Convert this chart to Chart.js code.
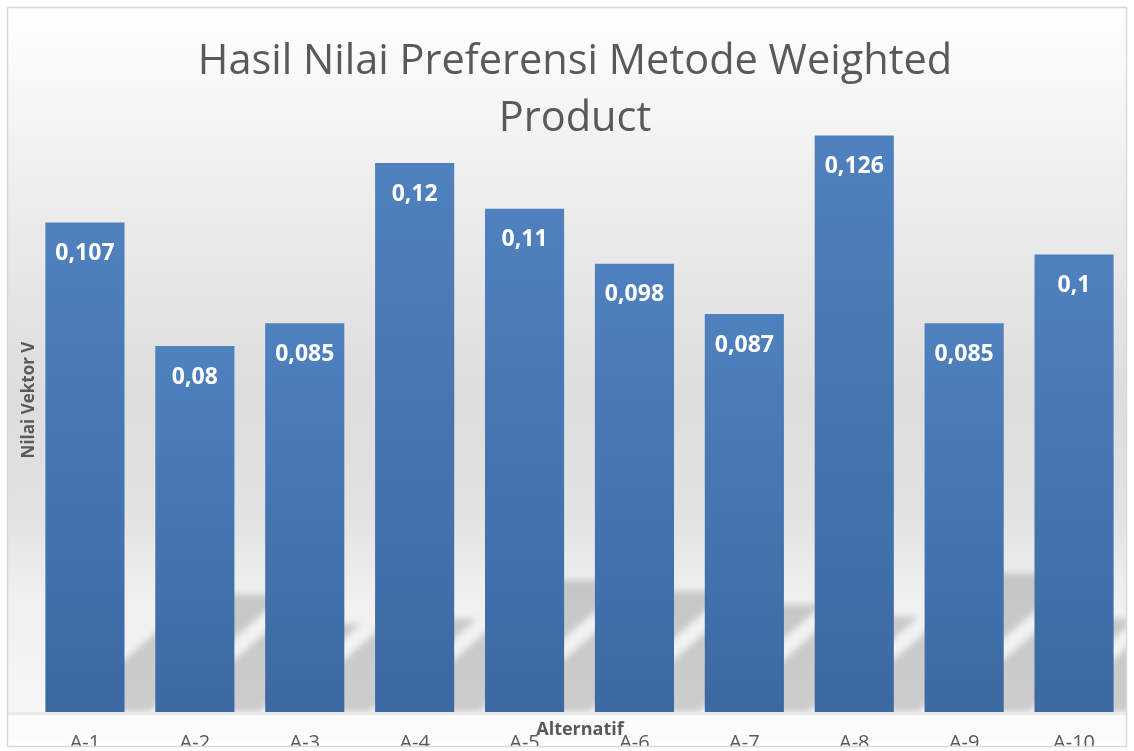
<!DOCTYPE html>
<html>
<head>
<meta charset="utf-8">
<script src="https://cdn.jsdelivr.net/npm/chart.js@4/dist/chart.umd.min.js"></script>
<style>
  html, body { margin: 0; padding: 0; background: #ffffff; }
  canvas { display: block; }
</style>
</head>
<body>
<canvas id="chart" width="1134" height="751"></canvas>
<script>
// data
var labels = ['A-1', 'A-2', 'A-3', 'A-4', 'A-5', 'A-6', 'A-7', 'A-8', 'A-9', 'A-10'];
var values = [0.107, 0.08, 0.085, 0.12, 0.11, 0.098, 0.087, 0.126, 0.085, 0.1];
var titleLines = ['Hasil Nilai Preferensi Metode Weighted', 'Product'];
var xTitle = 'Alternatif';
var yTitle = 'Nilai Vektor V';

var textGrey = '#595959';

function fmt(v) {
    return String(v).replace('.', ',');
}

// bar fill: lighter at the top of each bar, darker at its base
function barFill(ctx) {
    var chart = ctx.chart;
    if (!chart.chartArea || ctx.raw === undefined) return '#4a7bb7';
    var y = chart.scales.y;
    var top = y.getPixelForValue(ctx.raw);
    var base = y.getPixelForValue(0);
    var g = chart.ctx.createLinearGradient(0, top, 0, base);
    g.addColorStop(0, '#4f81be');
    g.addColorStop(1, '#3c69a2');
    return g;
}

var decor = {
    id: 'decor',
    beforeDraw: function(chart) {
        var c = chart.ctx;
        var W = chart.width, H = chart.height;
        var base = chart.scales.y.getPixelForValue(0);
        c.save();
        c.fillStyle = '#ffffff';
        c.fillRect(0, 0, W, H);
        var g = c.createLinearGradient(0, 8, 0, base);
        g.addColorStop(0, '#ffffff');
        g.addColorStop(0.28, '#ececec');
        g.addColorStop(0.55, '#dddddd');
        g.addColorStop(0.72, '#e2e2e2');
        g.addColorStop(0.84, '#f0f0f0');
        g.addColorStop(1, '#f6f6f6');
        c.fillStyle = g;
        c.fillRect(8, 8, W - 16, base - 8);
        c.fillStyle = '#ebebeb';
        c.fillRect(8, base, W - 16, 3);
        c.fillStyle = '#fcfcfc';
        c.fillRect(8, base + 3, W - 16, H - base - 11);
        c.restore();
    },
    beforeDatasetsDraw: function(chart) {
        // soft floor shadows leaning to the right, height follows the bar
        var c = chart.ctx;
        var base = chart.scales.y.getPixelForValue(0);
        var meta = chart.getDatasetMeta(0);
        var off = 19, k = 1.15;
        c.save();
        c.beginPath();
        c.rect(8, 8, chart.width - 16, base - 8);
        c.clip();
        c.filter = 'blur(3px)';
        c.fillStyle = 'rgba(0,0,0,0.17)';
        meta.data.forEach(function(bar) {
            var sh = 0.24 * (base - bar.y);
            var L = bar.x - bar.width / 2 + off;
            var R = bar.x + bar.width / 2 + off + 6;
            c.beginPath();
            c.moveTo(L, base);
            c.lineTo(R, base);
            c.lineTo(R + sh * k, base - sh);
            c.lineTo(L + sh * k, base - sh);
            c.closePath();
            c.fill();
        });
        c.restore();
    },
    afterDatasetsDraw: function(chart) {
        var c = chart.ctx;
        var meta = chart.getDatasetMeta(0);
        var xs = chart.scales.x;
        var W = chart.width, H = chart.height;
        c.save();
        // value labels inside the top of each bar
        c.fillStyle = '#ffffff';
        c.font = 'bold 23px "Open Sans"';
        c.textAlign = 'center';
        c.textBaseline = 'middle';
        meta.data.forEach(function(bar, i) {
            c.fillText(fmt(values[i]), bar.x, bar.y + 31);
        });
        // category labels (cut by the frame)
        c.fillStyle = textGrey;
        c.font = '20px "Open Sans"';
        c.textBaseline = 'alphabetic';
        labels.forEach(function(lab, i) {
            c.fillText(lab, xs.getPixelForTick(i), 749);
        });
        c.font = 'bold 18px "Open Sans"';
        c.fillText(xTitle, 580, 735);
        // y title
        c.save();
        c.translate(34, 400);
        c.rotate(-Math.PI / 2);
        c.font = 'bold 17px "Open Sans"';
        c.fillText(yTitle, 0, 0);
        c.restore();
        // chart title
        c.font = '41.5px "Open Sans"';
        c.fillText(titleLines[0], 575, 74);
        c.fillText(titleLines[1], 575, 131);
        // frame
        c.fillStyle = '#ffffff';
        c.fillRect(0, H - 4, W, 4);
        c.strokeStyle = '#d9d9d9';
        c.lineWidth = 1.5;
        c.strokeRect(7.5, 7.5, W - 15, H - 12);
        c.restore();
    }
};

var chart = new Chart(document.getElementById('chart').getContext('2d'), {
    type: 'bar',
    data: {
        labels: labels,
        datasets: [{
            data: values,
            backgroundColor: barFill,
            borderWidth: 0,
            categoryPercentage: 0.72,
            barPercentage: 1
        }]
    },
    options: {
        responsive: false,
        devicePixelRatio: 1,
        animation: false,
        layout: { padding: { left: 30, right: 5, top: 71.5, bottom: 39 } },
        plugins: {
            legend: { display: false },
            tooltip: { enabled: false }
        },
        scales: {
            x: { display: false },
            y: { display: false, min: 0, max: 0.14 }
        }
    },
    plugins: [decor]
});
</script>
</body>
</html>
